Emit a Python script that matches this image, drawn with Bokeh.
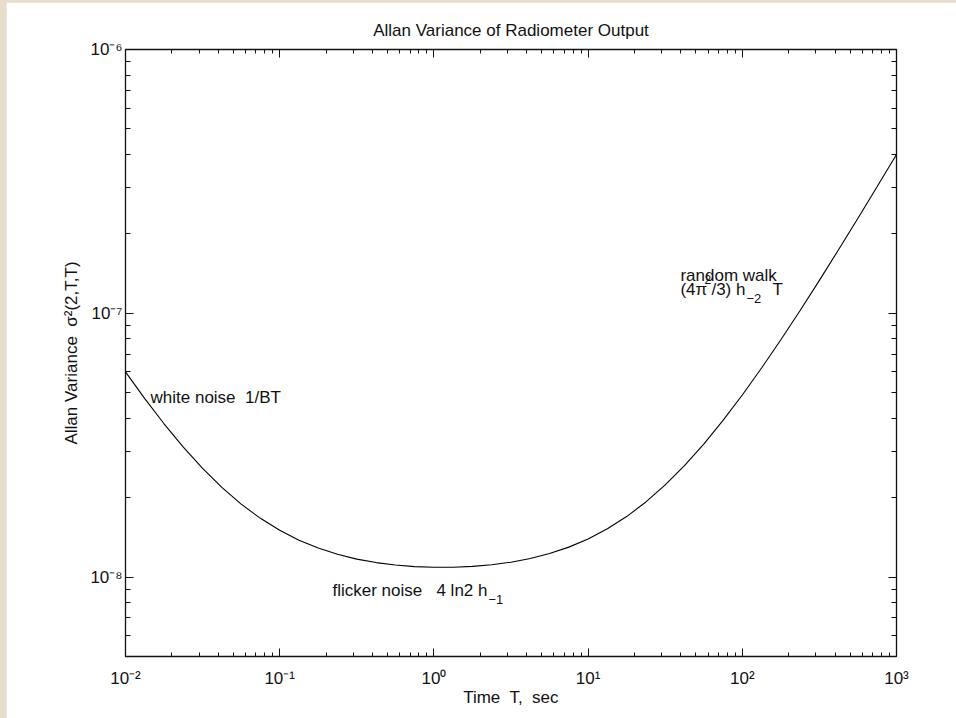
from bokeh.plotting import figure
from bokeh.models import (LogAxis, Label, CustomJSTickFormatter, FixedTicker, Range1d)
from bokeh.embed import file_html
from bokeh.resources import INLINE

# ---------------- data ----------------
T_SEC = [0.01, 0.013335, 0.017783, 0.023714, 0.031623, 0.04217, 0.056234, 0.074989,
         0.1, 0.13335, 0.17783, 0.23714, 0.31623, 0.4217, 0.56234, 0.74989,
         1.0, 1.3335, 1.7783, 2.3714, 3.1623, 4.217, 5.6234, 7.4989,
         10.0, 13.335, 17.783, 23.714, 31.623, 42.17, 56.234, 74.989,
         100.0, 133.35, 177.83, 237.14, 316.23, 421.7, 562.34, 749.89, 1000.0]
ALLAN_VAR = [6.000e-8, 4.750e-8, 3.812e-8, 3.109e-8, 2.582e-8, 2.188e-8, 1.891e-8, 1.670e-8,
             1.504e-8, 1.380e-8, 1.288e-8, 1.220e-8, 1.170e-8, 1.135e-8, 1.111e-8, 1.096e-8,
             1.089e-8, 1.090e-8, 1.098e-8, 1.114e-8, 1.139e-8, 1.176e-8, 1.228e-8, 1.299e-8,
             1.395e-8, 1.524e-8, 1.696e-8, 1.927e-8, 2.235e-8, 2.645e-8, 3.193e-8, 3.925e-8,
             4.900e-8, 6.201e-8, 7.935e-8, 1.025e-7, 1.333e-7, 1.745e-7, 2.293e-7, 3.025e-7,
             4.000e-7]

X_RANGE = [1e-2, 1e3]
Y_RANGE = [5e-9, 1e-6]
X_MAJOR_TICKS = [1e-2, 1e-1, 1e0, 1e1, 1e2, 1e3]
Y_MAJOR_TICKS = [1e-8, 1e-7, 1e-6]
MINOR_MANTISSAS = [2, 3, 4, 5, 6, 7, 8, 9]

TITLE = "Allan Variance of Radiometer Output"
X_LABEL = "Time\u00a0 T,\u00a0 sec"
Y_LABEL = "Allan Variance\u00a0 \u03c3\u00b2(2,T,T)"

FONT = "Liberation Sans"
INK = "#111111"

x_minor = [m * t for t in X_MAJOR_TICKS[:-1] for m in MINOR_MANTISSAS]
y_minor = [m * t for t in [1e-9] + Y_MAJOR_TICKS[:-1] for m in MINOR_MANTISSAS
           if Y_RANGE[0] < m * t < Y_RANGE[1]]

p = figure(width=950, height=716, x_axis_type="log", y_axis_type="log",
           x_range=Range1d(*X_RANGE), y_range=Range1d(*Y_RANGE),
           output_backend="svg", toolbar_location=None,
           min_border_left=119, min_border_right=60, min_border_top=47, min_border_bottom=62,
           margin=(2, 0, 0, 6))
p.background_fill_color = "white"
p.border_fill_color = "white"
p.outline_line_color = INK
p.outline_line_width = 1.3
p.xgrid.visible = False
p.ygrid.visible = False

p.title.text = TITLE
p.title.align = "center"
p.title.text_font = FONT
p.title.text_font_size = "17px"
p.title.text_font_style = "normal"
p.title.text_color = INK
p.title.standoff = 19

p.add_layout(LogAxis(), "above")
p.add_layout(LogAxis(), "right")

blank = CustomJSTickFormatter(code="return ''")
power = CustomJSTickFormatter(code="""
const sup = {'-': '\u207b', '0': '\u2070', '1': '\u00b9', '2': '\u00b2', '3': '\u00b3',
             '4': '\u2074', '5': '\u2075', '6': '\u2076', '7': '\u2077', '8': '\u2078', '9': '\u2079'};
const e = String(Math.round(Math.log10(tick)));
return '10' + e.split('').map(c => sup[c]).join('');
""")

for ax in p.xaxis:
    ax.ticker = FixedTicker(ticks=X_MAJOR_TICKS, minor_ticks=x_minor)
    ax.minor_tick_in = 4
for ax in p.yaxis:
    ax.ticker = FixedTicker(ticks=Y_MAJOR_TICKS, minor_ticks=y_minor)
    ax.minor_tick_in = 5
for ax in p.xaxis + p.yaxis:
    ax.formatter = blank
    ax.major_tick_in = 8
    ax.major_tick_out = 0
    ax.minor_tick_out = 0
    ax.axis_line_color = None
    ax.major_tick_line_color = INK
    ax.minor_tick_line_color = INK
    ax.major_label_standoff = 0
    ax.major_label_text_font = FONT
    ax.major_label_text_font_size = "0px"
    ax.major_label_text_color = INK
    ax.axis_label_text_font = FONT
    ax.axis_label_text_font_size = "17px"
    ax.axis_label_text_font_style = "normal"
    ax.axis_label_text_color = INK

xb = p.below[0]
xb.formatter = power
xb.major_label_text_font_size = "17px"
xb.major_label_standoff = 12
xb.axis_label = X_LABEL
xb.axis_label_standoff = -3

yl = p.left[0]
yl.formatter = power
yl.major_label_text_font_size = "17px"
yl.major_label_standoff = 3
yl.axis_label = Y_LABEL
yl.axis_label_standoff = 6

# ---------------- curve ----------------
p.line(T_SEC, ALLAN_VAR, line_color="black", line_width=1.1)

# ---------------- annotations ----------------
def lab(**kw):
    base = dict(text_font=FONT, text_color=INK, text_baseline="alphabetic", text_align="left")
    base.update(kw)
    p.add_layout(Label(**base))

lab(x=0.01453, y=4.81e-8, text="white noise\u00a0 1/BT", text_font_size="17px")

lab(x=0.220, y=8.93e-9, text="flicker noise\u00a0\u00a0 4 ln2 h", text_font_size="17px")
lab(x=0.220, y=8.93e-9, x_offset=156, y_offset=-9, text="\u22121", text_font_size="13px")

RW_X, RW_Y = 39.7, 1.393e-7
lab(x=RW_X, y=RW_Y, text="random walk", text_font_size="17px")
lab(x=RW_X, y=RW_Y, y_offset=-14, text="(4\u03c0", text_font_size="17px")
lab(x=RW_X, y=RW_Y, x_offset=24, y_offset=-4, text="2", text_font_size="12px")
lab(x=RW_X, y=RW_Y, x_offset=31, y_offset=-14, text="/3) h", text_font_size="17px")
lab(x=RW_X, y=RW_Y, x_offset=66, y_offset=-23, text="\u22122", text_font_size="13px")
lab(x=RW_X, y=RW_Y, x_offset=92, y_offset=-14, text="T", text_font_size="17px")

html = file_html(p, INLINE, title=TITLE)
html = html.replace("</head>",
                    "<style>html, body { background: #e6ddcd !important; }</style>\n</head>", 1)
with open("out.html", "w") as f:
    f.write(html)
